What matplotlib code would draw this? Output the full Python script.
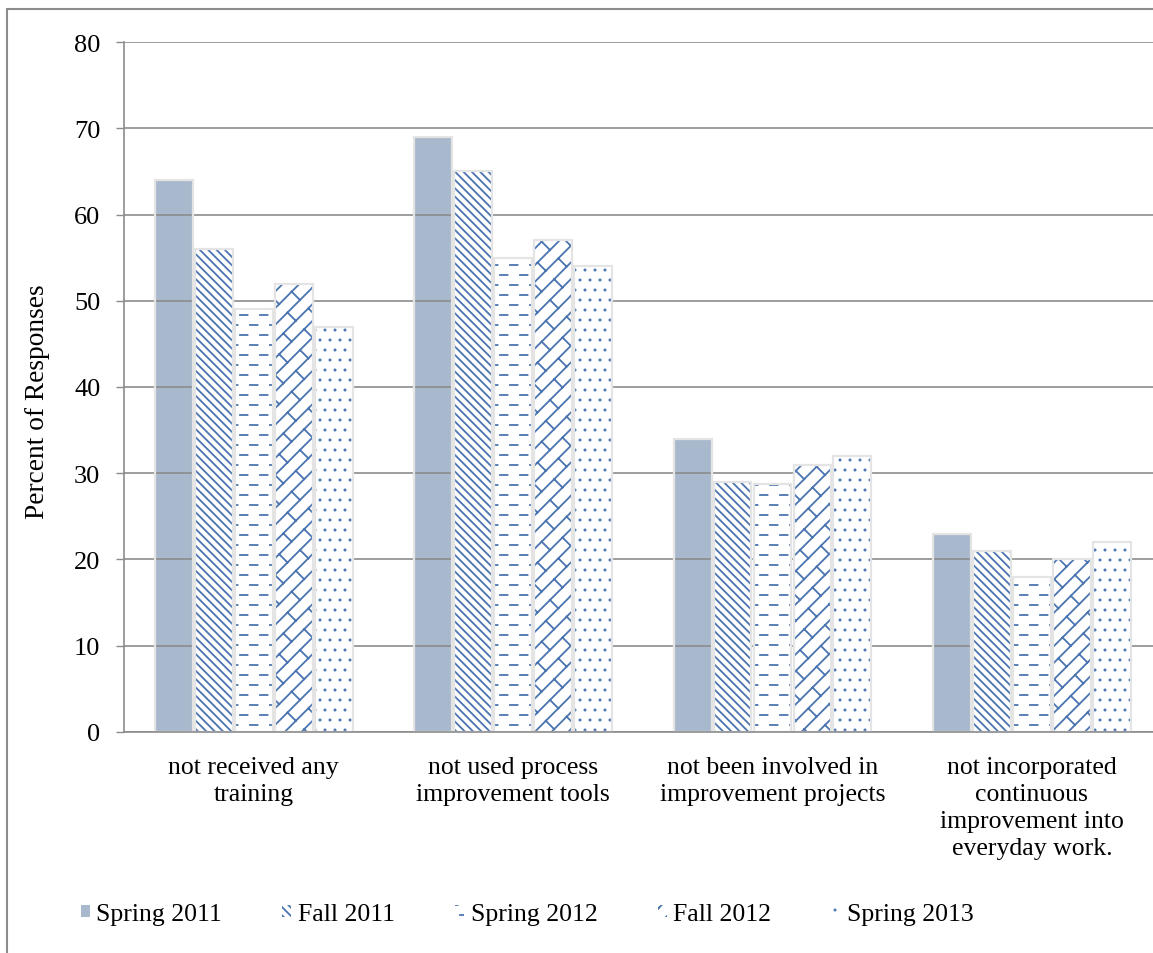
import warnings

import numpy as np
import matplotlib
matplotlib.use('Agg')
import matplotlib.pyplot as plt
import matplotlib.hatch as mhatch
from matplotlib.path import Path
from matplotlib.patches import Rectangle

warnings.filterwarnings('ignore')

# survey results: percent of respondents who have ...
categories = ['not received any\ntraining',
              'not used process\nimprovement tools',
              'not been involved in\nimprovement projects',
              'not incorporated\ncontinuous\nimprovement into\neveryday work.']
terms = ['Spring 2011', 'Fall 2011', 'Spring 2012', 'Fall 2012', 'Spring 2013']
spring_2011 = [64, 69, 34, 23]
fall_2011 = [56, 65, 29, 21]
spring_2012 = [49, 55, 28.8, 18]
fall_2012 = [52, 57, 31, 20]
spring_2013 = [47, 54, 32, 22]
y_ticks = [0, 10, 20, 30, 40, 50, 60, 70, 80]


def segment(x0, y0, x1, y1):
    return np.array([[x0, y0], [x1, y1]]), np.array([Path.MOVETO, Path.LINETO])


class OfficeHatch(mhatch.HatchPatternBase):
    """Extra fill patterns in a unit tile:
    's' narrow down-right stripes, 'd' staggered dashes,
    'b' diagonal brick, 'p' staggered dots."""

    def __init__(self, hatch, density):
        parts = []
        if 's' in hatch:
            n = 12
            for k in range(-n, 3 * n):
                c = k / n
                parts.append(segment(-1.0, c + 1.0, 2.0, c - 2.0))
        if 'd' in hatch:
            rows, cols = 10, 5
            for r in range(rows):
                y = (r + 0.5) / rows
                off = (r % 2) * 0.5 / cols
                for c in range(-1, cols + 1):
                    x0 = c / cols + off
                    parts.append(segment(x0, y, x0 + 0.075, y))
        if 'b' in hatch:
            n, m = 6, 4
            shift = 0.5 / m - 0.5 / n
            for k in range(-n, 2 * n):
                c = k / n
                parts.append(segment(-1.0, c - 1.0, 2.0, c + 2.0))
            for k in range(-n, n + 1):
                for j in range(-2 * m, 2 * m + 1):
                    t = j / m + k * shift
                    parts.append(segment(t, t + k / n,
                                         t - 0.5 / n, t + k / n + 0.5 / n))
        if 'p' in hatch:
            rows = 10
            for r in range(rows + 1):
                off = (r % 2) * 0.5 / rows
                for c in range(-1, rows + 1):
                    circ = Path.circle((c / rows + off, r / rows), 0.006)
                    parts.append((circ.vertices, circ.codes))
        if parts:
            self.verts = np.concatenate([p[0] for p in parts])
            self.codes = np.concatenate([p[1] for p in parts])
        else:
            self.verts = np.zeros((0, 2))
            self.codes = np.zeros(0, dtype=Path.code_type)
        self.num_vertices = len(self.verts)

    def set_vertices_and_codes(self, vertices, codes):
        vertices[:] = self.verts
        codes[:] = self.codes


mhatch._hatch_types.append(OfficeHatch)

plt.rcParams['font.family'] = ['Liberation Serif', 'DejaVu Serif']
plt.rcParams['hatch.linewidth'] = 1.3

hatch_blue = '#4a74b0'
series = [spring_2011, fall_2011, spring_2012, fall_2012, spring_2013]
hatches = [None, 's', 'd', 'b', 'p']

fig = plt.figure(figsize=(11.53, 9.54), dpi=100)
ax = fig.add_axes([0.1075, 0.2317, 0.9, 0.7232])

x = np.arange(len(categories))
step = 0.154
width = 0.146
for i, (vals, h) in enumerate(zip(series, hatches)):
    pos = x + (i - 2) * step
    if h is None:
        ax.bar(pos, vals, width, color='#a9b9cd', linewidth=0, zorder=1,
               label=terms[i])
    else:
        ax.bar(pos, vals, width, color='white', edgecolor=hatch_blue,
               hatch=h, linewidth=0, zorder=2, label=terms[i])
    # soft outline around each bar
    ax.bar(pos, vals, width, fill=False, edgecolor='#e4e4e4',
           linewidth=1.6, zorder=2.1)

ax.set_xlim(-0.5, 3.5)
ax.set_ylim(0, 80)
ax.set_yticks(y_ticks)
ax.set_xticks(x)
ax.set_xticklabels(categories, fontsize=18.5, linespacing=1.3)
ax.tick_params(axis='x', length=0, pad=17)
ax.tick_params(axis='y', length=6, width=1, color='#8c8c8c', labelsize=19,
               pad=11)
ax.set_ylabel('Percent of Responses', fontsize=19.7)
ax.yaxis.set_label_coords(-0.0713, 0.48)

ax.set_axisbelow('line')
ax.grid(axis='y', color='#8c8c8c', linewidth=1.2)
for side in ['top', 'right']:
    ax.spines[side].set_visible(False)
for side in ['left', 'bottom']:
    ax.spines[side].set_color('#8c8c8c')
    ax.spines[side].set_linewidth(1.2)

fig.legend(loc='center left', bbox_to_anchor=(0.059, 0.041), ncol=5,
           frameon=False, fontsize=18.5, handlelength=0.35, handleheight=0.35,
           handletextpad=0.25, columnspacing=2.35, borderpad=0)

# chart frame
fig.patches.append(Rectangle((7 / 1153, -0.01), 1.0, 1 - 10 / 954 + 0.01,
                             transform=fig.transFigure, fill=False,
                             edgecolor='#8c8c8c', linewidth=1.5))

fig.savefig('out.png', dpi=100)
